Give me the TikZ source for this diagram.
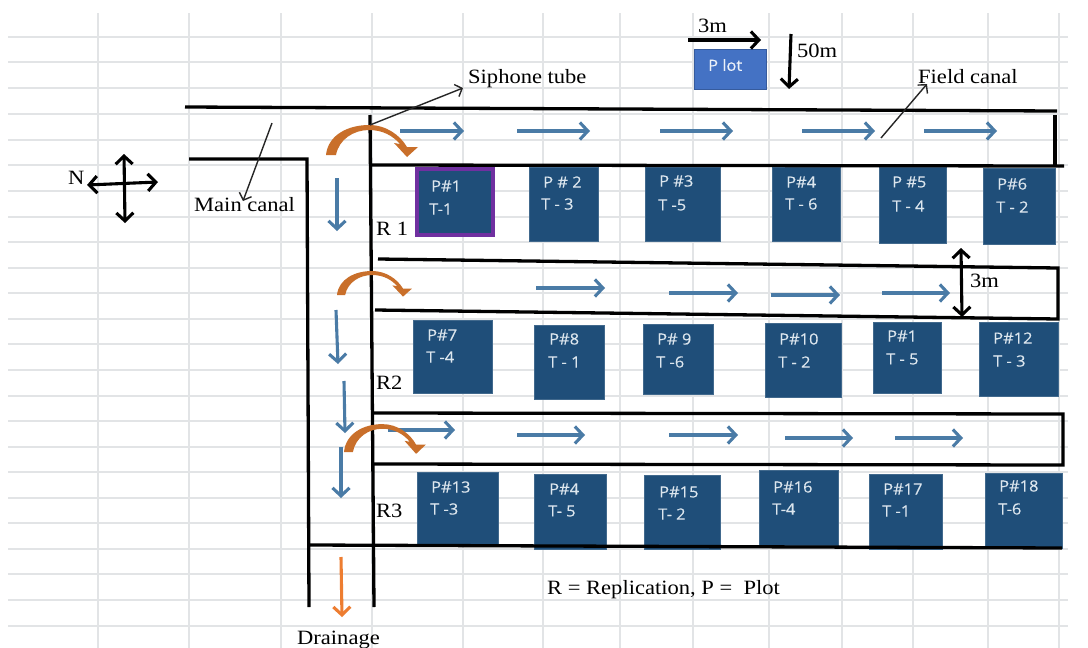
\documentclass[tikz,border=0pt]{standalone}
\usepackage{fontspec}
\setmainfont[FakeStretch=1.11]{Liberation Serif}
\newfontfamily\boxfont[FakeStretch=1.06,FakeBold=0.25]{Open Sans}
\usetikzlibrary{arrows.meta}
\definecolor{gridc}{HTML}{E2E4E6}
\definecolor{boxc}{HTML}{1F4E79}
\definecolor{boxt}{HTML}{DCE6EE}
\definecolor{plotc}{HTML}{4472C4}
\definecolor{flowc}{HTML}{4A7BA6}
\definecolor{curvc}{HTML}{C96F2A}
\definecolor{drainc}{HTML}{ED7D31}
\definecolor{purp}{HTML}{7030A0}
\tikzset{
 barb/.style={Straight Barb[length=8pt,width=17pt,line width=#1]},
 gridline/.style={draw=gridc,line width=1.5pt},
 wall/.style={draw=black,line width=3.3pt},
 flow/.style={draw=flowc,line width=3.1pt,-{Straight Barb[length=8pt,width=17pt,line width=3.1pt]}},
 drainflow/.style={draw=drainc,line width=3.1pt,-{Straight Barb[length=8pt,width=17pt,line width=3.1pt]}},
 dimline/.style={draw=black,line width=3.1pt,-{Straight Barb[length=8pt,width=17pt,line width=3.1pt]}},
 dimboth/.style={draw=black,line width=3.1pt,{Straight Barb[length=8pt,width=17pt,line width=3.1pt]}-{Straight Barb[length=8pt,width=17pt,line width=3.1pt]}},
 leader/.style={draw=black!85,line width=1.4pt,-{Straight Barb[length=6pt,width=13pt,line width=1.4pt]}},
 lab/.style={anchor=west,inner sep=0pt,font=\fontsize{20.3}{22}\selectfont,text=black},
 boxtext/.style={anchor=west,inner sep=0pt,font=\boxfont\fontsize{15.5}{17}\selectfont,text=boxt},
 plotbox/.style={fill=boxc,draw=boxc!85!white,line width=.8pt,inner sep=0pt},
}
\newcommand{\orangearc}[4]{%
 \begin{scope}[shift={(#1,#2)},xscale=#3,yscale=#4]
  \fill[curvc] (0,0) .. controls (2,-20) and (22,-30) .. (43,-30)
   .. controls (60,-30) and (74,-20) .. (81,-8) -- (92,-8) -- (81,2) -- (68,-12) -- (74,-11)
   .. controls (67,-19) and (57,-25) .. (43,-25)
   .. controls (28,-25) and (13,-16) .. (10,0) -- cycle;
 \end{scope}}
\begin{document}
\begin{tikzpicture}[x=1pt,y=-1pt]
\useasboundingbox (0,0) rectangle (1088,648);
\fill[white] (0,0) rectangle (1088,648);
% sheet grid
\foreach \yy in {37,62,88,114,140,165,191,217,242,268,293,319,344,370,396,421,447,472,498,523,549,574,600,626}
  \draw[gridline] (8,\yy) -- (1068,\yy);
\foreach \xx in {98,189,281,372,463,543,620,693,769,842,913,988,1059}
  \draw[gridline] (\xx,13) -- (\xx,648);
% plots
\foreach \n/\a/\b/\c/\d/\px/\py/\tx/\ty/\l/\m in {
 b2/529/167/598/241/543/182/541/204/P \# 2/T - 3,
 b3/645/167/720/241/659/181/658/205/P \#3/T -5,
 b4/772/167/840/241/786/182/785/204/P\#4/T - 6,
 b5/879/167/946/243/892/182/892/206/P \#5/T - 4,
 b6/983/168/1055/244/997/184/996/207/P\#6/T - 2,
 b7/413/320/492/393/427/335/426/357/P\#7/T -4,
 b8/534/325/604/399/549/339/548/362/P\#8/T - 1,
 b9/643/324/713/394/657/339/656/362/P\# 9/T -6,
 b10/765/323/841/397/779/339/778/362/P\#10/T - 2,
 b11/873/322/941/393/887/336/886/359/P\#1/T - 5,
 b12/979/322/1058/396/993/338/993/361/P\#12/T - 3,
 b13/417/472/498/545/431/487/430/509/P\#13/T -3,
 b14/534/474/606/549/549/489/548/511/P\#4/T- 5,
 b15/644/475/720/549/659/492/658/514/P\#15/T- 2,
 b16/759/470/838/545/773/487/772/509/P\#16/T-4,
 b17/869/474/942/549/883/489/882/511/P\#17/T -1,
 b18/985/473/1062/548/999/486/998/509/P\#18/T-6}{
  \pgfmathsetmacro{\bw}{\c-\a}\pgfmathsetmacro{\bh}{\d-\b}
  \pgfmathsetmacro{\cx}{(\a+\c)/2}\pgfmathsetmacro{\cy}{(\b+\d)/2}
  \node[plotbox,minimum width=\bw pt,minimum height=\bh pt] (\n) at (\cx,\cy) {};
  \node[boxtext] (\n p) at (\px,\py) {\l};
  \node[boxtext] (\n t) at (\tx,\ty) {\m};
}
\node[plotbox,draw=purp,line width=3.2pt,minimum width=76pt,minimum height=66pt] (b1) at (455,202) {};
\node[boxtext] (b1p) at (431,186) {P\#1};
\node[boxtext] (b1t) at (429,209) {T-1};
\node[fill=plotc,draw=plotc!80!black,line width=.8pt,minimum width=72pt,minimum height=40pt,inner sep=0pt] (legendplot) at (730,69) {};
\node[boxtext,text=white!90!plotc] (legendtext) at (708,65) {P lot};
% canal walls
\draw[wall] (185,107) -- (1057,111);
\draw[wall] (189,159) -- (307,159) -- (309,607);
\draw[wall] (370,115) -- (374,607);
\draw[wall] (371,165) -- (1064,166);
\draw[wall] (1055,115) -- (1055,165);
\draw[wall] (378,259) -- (1058,268) -- (1058,319) -- (375,310);
\draw[wall] (372,413) -- (1063,414) -- (1063,465) -- (372,464);
\draw[wall] (309,545) -- (1062,548);
% flow arrows
\foreach \xa/\ya/\xb/\yb in {400/131/464/131,517/131/590/131,660/131/733/131,802/131/875/131,924/131/997/131,
 536/288/605/288,669/293/738/293,771/295/840/295,882/293/950/293,
 388/430/455/430,517/435/585/435,669/435/738/435,785/438/853/438,895/438/963/438,
 337/178/337/231,336/310/338/364,344/381/345/433,341/447/341/498}
  \draw[flow] (\xa,\ya) -- (\xb,\yb);
\draw[drainflow] (341,557) -- (342,617);
% siphon curves
\orangearc{326}{155}{1}{1}
\orangearc{337}{295}{.815}{.8}
\orangearc{344}{452}{.89}{.93}
% labels
\node[lab] (siphone) at (468,78.5) {Siphone tube};
\node[lab] (field) at (918,77) {Field canal};
\node[lab] (main) at (194,205) {Main canal};
\node[lab] (three) at (698,26) {3m};
\node[lab] (fifty) at (797,51) {50m};
\node[lab] (r1) at (376,229) {R 1};
\node[lab] (r2) at (376,383) {R2};
\node[lab] (r3) at (376,511) {R3};
\node[lab] (threeb) at (970,281) {3m};
\node[lab] (legend) at (547,590) {R = Replication, P =\ \ Plot};
\node[lab] (drain) at (297,640) {Drainage};
\node[lab] (north) at (68,178) {N};
% dimension arrows
\coordinate (d1a) at (688,40); \coordinate (d1b) at (761,40);
\coordinate (d2a) at (791,34); \coordinate (d2b) at (789,89);
\coordinate (d3a) at (961,248); \coordinate (d3b) at (962,317);
\coordinate (n1) at (124,154); \coordinate (n2) at (125,223);
\coordinate (n3) at (87,185); \coordinate (n4) at (158,182);
\draw[dimline] (d1a) -- (d1b);
\draw[dimline] (d2a) -- (d2b);
\draw[dimboth] (d3a) -- (d3b);
\draw[dimboth] (n1) -- (n2);
\draw[dimboth] (n3) -- (n4);
% leaders
\coordinate (l1a) at (370,125); \coordinate (l1b) at (463,88);
\coordinate (l2a) at (881,138); \coordinate (l2b) at (927,84);
\coordinate (l3a) at (272,123); \coordinate (l3b) at (243,201);
\draw[leader] (l1a) -- (l1b);
\draw[leader] (l2a) -- (l2b);
\draw[leader] (l3a) -- (l3b);
\end{tikzpicture}
\end{document}
